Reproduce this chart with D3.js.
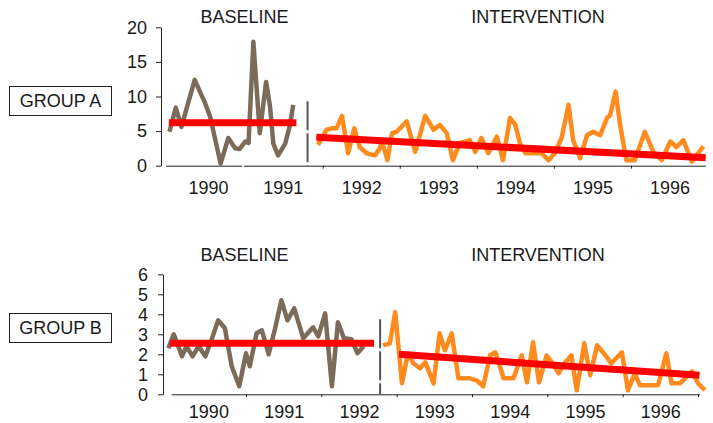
<!DOCTYPE html>
<html>
<head>
<meta charset="utf-8">
<script src="https://cdn.jsdelivr.net/npm/d3@7"></script>
<style>
  body { margin: 0; background: #fff; }
  text { font-family: "Liberation Sans", Arial, sans-serif; fill: #1a1a1a; }
</style>
</head>
<body>
<div class="chart"></div>
<script>
// data (x = decimal year, y = value)
var topBaseYears = [1989.95, 1990.04, 1990.12, 1990.31, 1990.46, 1990.53, 1990.68, 1990.79, 1990.89, 1990.95,
  1991.03, 1991.07, 1991.13, 1991.17, 1991.21, 1991.29, 1991.34, 1991.38, 1991.44, 1991.53, 1991.59, 1991.63];
var topBaseValues = [4.9, 8.4, 5.6, 12.4, 9.0, 7.1, 0.3, 4.0, 2.5, 2.4,
  3.5, 3.3, 17.9, 11.4, 4.7, 12.1, 8.5, 3.2, 1.5, 3.2, 5.9, 8.8];

var topIntYears = [1991.94, 1992.05, 1992.12, 1992.18, 1992.25, 1992.33, 1992.41, 1992.48, 1992.57, 1992.68,
  1992.74, 1992.77, 1992.84, 1992.90, 1992.96, 1993.09, 1993.20, 1993.33, 1993.44, 1993.52,
  1993.61, 1993.69, 1993.78, 1993.91, 1993.98, 1994.06, 1994.15, 1994.26, 1994.34, 1994.43,
  1994.50, 1994.56, 1994.63, 1994.73, 1994.84, 1994.93, 1995.01, 1995.10, 1995.19, 1995.25,
  1995.34, 1995.43, 1995.51, 1995.60, 1995.69, 1995.73, 1995.80, 1995.86, 1995.94, 1996.05,
  1996.18, 1996.29, 1996.40, 1996.51, 1996.59, 1996.68, 1996.79, 1996.94];
var topIntValues = [3.0, 5.2, 5.4, 5.4, 7.2, 1.8, 5.4, 2.7, 1.8, 1.5,
  2.5, 3.5, 0.8, 4.7, 4.9, 6.4, 2.0, 7.2, 5.2, 5.9,
  4.7, 0.8, 3.3, 3.7, 2.0, 4.0, 1.8, 4.2, 0.8, 6.9,
  5.9, 3.2, 1.8, 1.8, 1.8, 0.8, 1.8, 4.0, 8.8, 3.7,
  1.1, 4.4, 4.9, 4.4, 6.9, 7.3, 10.7, 5.9, 0.8, 0.8,
  4.9, 2.0, 0.8, 3.5, 2.7, 3.7, 0.6, 2.8];

var botBaseYears = [1989.97, 1990.04, 1990.15, 1990.21, 1990.29, 1990.37, 1990.46, 1990.54, 1990.63, 1990.72,
  1990.81, 1990.91, 1991.00, 1991.05, 1991.14, 1991.21, 1991.30, 1991.38, 1991.47, 1991.55,
  1991.64, 1991.76, 1991.89, 1991.96, 1992.05, 1992.14, 1992.22, 1992.30, 1992.40, 1992.48, 1992.56];
var botBaseValues = [2.3, 3.0, 1.9, 2.4, 1.9, 2.4, 1.9, 2.7, 3.7, 3.3,
  1.4, 0.4, 2.05, 1.4, 3.05, 3.2, 2.0, 3.2, 4.7, 3.7,
  4.3, 2.8, 3.35, 2.9, 4.05, 0.4, 3.6, 2.8, 2.75, 2.05, 2.4];

var botIntYears = [1992.82, 1992.91, 1992.98, 1993.07, 1993.15, 1993.22, 1993.31, 1993.38, 1993.49, 1993.57,
  1993.64, 1993.73, 1993.82, 1993.97, 1994.06, 1994.15, 1994.24, 1994.31, 1994.42, 1994.55,
  1994.66, 1994.73, 1994.81, 1994.89, 1994.99, 1995.06, 1995.15, 1995.23, 1995.32, 1995.39,
  1995.49, 1995.57, 1995.66, 1995.77, 1995.85, 1995.99, 1996.07, 1996.16, 1996.23, 1996.36,
  1996.47, 1996.58, 1996.65, 1996.76, 1996.92, 1997.00, 1997.09];
var botIntValues = [2.45, 2.55, 4.1, 0.55, 2.05, 1.55, 1.3, 1.6, 0.55, 3.05,
  2.2, 3.05, 0.8, 0.8, 0.7, 0.4, 1.95, 2.1, 0.8, 0.8,
  1.95, 0.6, 2.6, 0.6, 1.95, 1.6, 1.05, 1.55, 1.95, 0.2,
  2.55, 0.95, 2.45, 1.95, 1.55, 2.1, 0.2, 1.05, 0.45, 0.45,
  0.45, 2.05, 0.55, 0.55, 1.15, 0.55, 0.2];

// mean / trend lines: [year, value] end points
var topBaseMean = [[1989.94, 6.2], [1991.67, 6.2]];
var topIntTrend = [[1991.92, 4.1], [1996.97, 1.15]];
var botBaseMean = [[1989.99, 2.55], [1992.70, 2.55]];
var botIntTrend = [[1993.03, 2.0], [1997.02, 0.95]];

// phase change: [year, top value]
var topPhase = [1991.81, 9.3];
var botPhase = [1992.78, 3.75];

var topYTicks = [0, 5, 10, 15, 20];
var botYTicks = [0, 1, 2, 3, 4, 5, 6];
var topYears = [1990, 1991, 1992, 1993, 1994, 1995, 1996];
var botYears = [1990, 1991, 1992, 1993, 1994, 1995, 1996];

var svg = d3.select(".chart")
  .append("svg")
  .attr("width", 713)
  .attr("height", 423);

var baseColor = "#7b6b58";
var intColor = "#ff8b1e";
var trendColor = "#ff0000";

function zip(xs, ys) {
  return xs.map(function(x, i) { return [x, ys[i]]; });
}

function panel(opt) {
  var g = svg.append("g");
  var x = opt.x, y = opt.y;
  var line = d3.line().x(d => x(d[0])).y(d => y(d[1]));

  // y axis
  g.append("g")
    .attr("transform", `translate(${opt.yAxisX},0)`)
    .call(d3.axisLeft(y).tickValues(opt.yTicks).tickFormat(d3.format("d"))
      .tickSize(5).tickSizeOuter(0).tickPadding(opt.yPad))
    .call(a => a.selectAll("text").style("font-size", "18px").attr("fill", "#1a1a1a"))
    .call(a => a.selectAll("line,path").attr("stroke", "#222"));

  // x axis: ticks at year starts
  var y0 = y(0);
  var xa = g.append("g")
    .attr("transform", `translate(0,${y0})`)
    .call(d3.axisBottom(x).tickValues(opt.tickYears).tickSize(3).tickSizeOuter(0).tickFormat(""));
  xa.select(".domain").attr("d", `M${opt.xAxisStart},0.5H${opt.xAxisEnd}`).attr("stroke", "#222");
  xa.selectAll("line").attr("stroke", "#222");

  // year labels centred in each year
  g.append("g")
    .attr("transform", `translate(0,${y0})`)
    .call(d3.axisBottom(x).tickValues(opt.years.map(d => d + 0.5)).tickSize(0).tickPadding(opt.xPad)
      .tickFormat(d => Math.floor(d)))
    .call(a => a.select(".domain").remove())
    .call(a => a.selectAll("text").style("font-size", "18px").attr("fill", "#1a1a1a"));

  // notch marks (white) on axis
  (opt.notches || []).forEach(function(n) {
    g.append("line")
      .attr("x1", x(n)).attr("x2", x(n))
      .attr("y1", y0 - 2).attr("y2", y0 + 2)
      .attr("stroke", "#fff").attr("stroke-width", 2);
  });

  // phase change line
  g.append("line")
    .attr("x1", x(opt.phase[0])).attr("x2", x(opt.phase[0]))
    .attr("y1", y(opt.phase[1])).attr("y2", y0)
    .attr("stroke", "#555").attr("stroke-width", 2)
    .attr("stroke-dasharray", "29,3");

  // data lines
  g.append("path")
    .datum(zip(opt.baseYears, opt.baseValues))
    .attr("d", line)
    .attr("fill", "none").attr("stroke", baseColor)
    .attr("stroke-width", 4.5).attr("stroke-linejoin", "round");

  g.append("path")
    .datum(zip(opt.intYears, opt.intValues))
    .attr("d", line)
    .attr("fill", "none").attr("stroke", intColor)
    .attr("stroke-width", 4.5).attr("stroke-linejoin", "round");

  [opt.mean, opt.trend].forEach(function(t) {
    g.append("path")
      .datum(t)
      .attr("d", line)
      .attr("fill", "none").attr("stroke", trendColor)
      .attr("stroke-width", 7);
  });

  // phase titles
  g.append("text").attr("x", 244.5).attr("y", opt.titleY)
    .attr("text-anchor", "middle").style("font-size", "18px").text("BASELINE");
  g.append("text").attr("x", 538).attr("y", opt.titleY)
    .attr("text-anchor", "middle").style("font-size", "18px").text("INTERVENTION");

  // group box
  g.append("rect")
    .attr("x", 9.5).attr("y", opt.boxY + 0.5)
    .attr("width", 102).attr("height", 29)
    .attr("fill", "none").attr("stroke", "#222").attr("stroke-width", 1);
  g.append("text").attr("x", 60.5).attr("y", opt.boxY + 21)
    .attr("text-anchor", "middle").style("font-size", "18px").text(opt.group);
}

panel({
  x: d3.scaleLinear().domain([1990, 1991, 1992, 1997]).range([173, 243, 322.7, 708]),
  y: d3.scaleLinear().domain([0, 20]).range([165.7, 27.3]),
  yTicks: topYTicks, yAxisX: 161, yPad: 9,
  tickYears: [1992, 1993, 1994, 1995, 1996], notches: [1991],
  years: topYears, xPad: 16, xAxisStart: 166, xAxisEnd: 706,
  baseYears: topBaseYears, baseValues: topBaseValues,
  intYears: topIntYears, intValues: topIntValues,
  mean: topBaseMean, trend: topIntTrend, phase: topPhase,
  titleY: 23, boxY: 86, group: "GROUP A"
});

panel({
  x: d3.scaleLinear().domain([1990, 1997]).range([170.7, 698]),
  y: d3.scaleLinear().domain([0, 6]).range([394.3, 274.3]),
  yTicks: botYTicks, yAxisX: 163, yPad: 10,
  tickYears: [1991, 1992, 1993, 1994, 1995, 1996, 1997],
  years: botYears, xPad: 11, xAxisStart: 171.7, xAxisEnd: 700,
  baseYears: botBaseYears, baseValues: botBaseValues,
  intYears: botIntYears, intValues: botIntValues,
  mean: botBaseMean, trend: botIntTrend, phase: botPhase,
  titleY: 261, boxY: 313, group: "GROUP B"
});
</script>
</body>
</html>
